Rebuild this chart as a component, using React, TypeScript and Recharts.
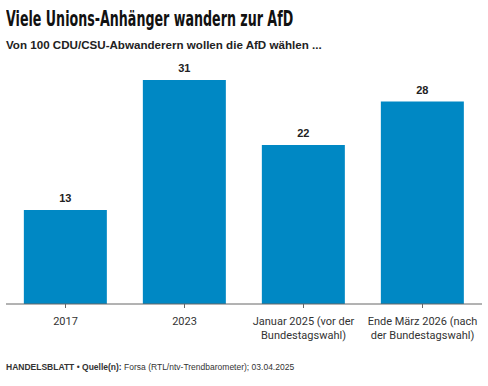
import React from 'react';
import { Bar, BarChart, XAxis, YAxis, LabelList } from 'recharts';

const categories = ['2017', '2023', 'Januar 2025 (vor der Bundestagswahl)', 'Ende März 2026 (nach der Bundestagswahl)'];
const tickLines = [
    ['2017'],
    ['2023'],
    ['Januar 2025 (vor der', 'Bundestagswahl)'],
    ['Ende März 2026 (nach', 'der Bundestagswahl)'],
];
const afdShare = [13, 31, 22, 28];

const data = categories.map((name, i) => ({ name, value: afdShare[i], lines: tickLines[i] }));

const BLUE = '#0088c4';
const FONT = 'Roboto, "Liberation Sans", Arial, sans-serif';
const HEAD_FONT = '"Liberation Sans", Arial, sans-serif';

function WrappedTick(props: any) {
    const { x, y, index } = props;
    const lines = tickLines[index] || [];
    return (
        <g transform={`translate(${x},${y})`}>
            {lines.map((line, i) => (
                <text key={i} x={0} y={15 + i * 14} textAnchor="middle" fontSize={11} fill="#333" fontFamily={FONT}>
                    {line}
                </text>
            ))}
        </g>
    );
}

export default function App() {
    return (
        <div style={{ position: 'absolute', left: 0, top: 0, width: 488, height: 386, background: '#fff', fontFamily: FONT }}>
            <div style={{ position: 'absolute', left: 6, top: 6, fontFamily: '"DejaVu Sans Condensed", sans-serif', fontWeight: 700, fontSize: 22, color: '#111', whiteSpace: 'nowrap', transform: 'scaleX(0.64)', transformOrigin: 'left top' }}>
                Viele Unions-Anhänger wandern zur AfD
            </div>
            <div style={{ position: 'absolute', left: 6, top: 38, fontFamily: HEAD_FONT, fontWeight: 700, fontSize: 11.6, color: '#222', whiteSpace: 'nowrap' }}>
                Von 100 CDU/CSU-Abwanderern wollen die AfD wählen ...
            </div>
            <div style={{ position: 'absolute', top: 0, left: 0 }}>
                <BarChart width={488} height={386} data={data} margin={{ top: 51, right: 6, left: 6, bottom: 52 }} barCategoryGap="15%">
                    <XAxis
                        dataKey="name"
                        height={30}
                        interval={0}
                        tick={<WrappedTick />}
                        tickLine={{ stroke: '#666' }}
                        tickSize={4}
                        axisLine={{ stroke: '#666' }}
                    />
                    <YAxis hide domain={[0, 35]} />
                    <Bar dataKey="value" fill={BLUE} isAnimationActive={false}>
                        <LabelList dataKey="value" position="top" offset={8} fontSize={11} fontWeight={700} fill="#222" fontFamily={HEAD_FONT} />
                    </Bar>
                </BarChart>
            </div>
            <div style={{ position: 'absolute', left: 6, top: 362, fontFamily: HEAD_FONT, fontSize: 8.5, color: '#333', whiteSpace: 'nowrap' }}>
                <b>HANDELSBLATT</b> • <b>Quelle(n):</b> Forsa (RTL/ntv-Trendbarometer); 03.04.2025
            </div>
        </div>
    );
}
